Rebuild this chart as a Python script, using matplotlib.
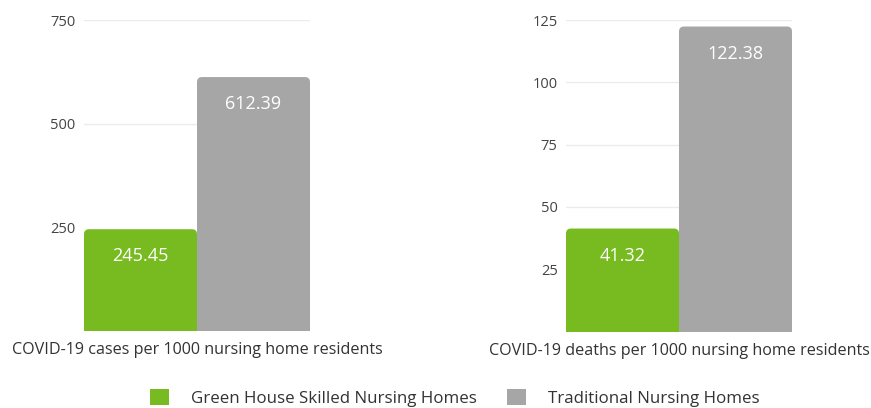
import matplotlib.pyplot as plt
from matplotlib.patches import FancyBboxPatch, Patch

plt.rcParams['font.family'] = ['Open Sans', 'DejaVu Sans']

# Data
series = ["Green House Skilled Nursing Homes", "Traditional Nursing Homes"]
colors = ["#78bb21", "#a6a6a6"]
cases = [245.45, 612.39]
deaths = [41.32, 122.38]
case_ticks = [250, 500, 750]
death_ticks = [25, 50, 75, 100, 125]
xlabels = ["COVID-19 cases per 1000 nursing home residents",
           "COVID-19 deaths per 1000 nursing home residents"]

W, H = 871, 408
fig = plt.figure(figsize=(W / 100, H / 100), dpi=100)

# axes boxes in pixels: left, right, top(ymax), bottom(zero)
boxes = [(84, 310, 20, 331), (566, 792, 20, 331.5)]
panels = [(cases, case_ticks, 750), (deaths, death_ticks, 125)]


def rounded_bars(ax, bars, radius_px=5):
    # replace square bars with top-rounded ones
    fig.canvas.draw()
    bbox = ax.get_window_extent()
    x0, x1 = ax.get_xlim()
    y0, y1 = ax.get_ylim()
    px_per_x = bbox.width / (x1 - x0)
    px_per_y = bbox.height / (y1 - y0)
    r = radius_px / px_per_x
    aspect = px_per_x / px_per_y
    for b in bars:
        x, w, h = b.get_x(), b.get_width(), b.get_height()
        b.set_visible(False)
        extra = 3 * r * aspect
        p = FancyBboxPatch((x + r, -extra + r * aspect), w - 2 * r, h + extra - 2 * r * aspect,
                           boxstyle=f"round,pad={r},rounding_size={r}",
                           mutation_aspect=aspect,
                           facecolor=b.get_facecolor(), edgecolor="none", zorder=2)
        p.set_clip_on(True)
        ax.add_patch(p)


for (l, r, t, b), (vals, ticks, top), lab in zip(boxes, panels, xlabels):
    ax = fig.add_axes([l / W, (H - b) / H, (r - l) / W, (b - t) / H])
    bars = ax.bar([0, 1], vals, width=1.0, color=colors, zorder=2)
    ax.set_xlim(-0.5, 1.5)
    ax.set_ylim(0, top)
    ax.set_yticks(ticks)
    ax.set_xticks([])
    ax.grid(axis="y", color="#ebebeb", linewidth=1, zorder=0)
    ax.set_axisbelow(True)
    # gridlines just above the short bar are not shown in the original
    for tv, gl in zip(ticks, ax.yaxis.get_gridlines()):
        if tv < min(vals) + 0.02 * top:
            gl.set_visible(False)
    for s in ax.spines.values():
        s.set_visible(False)
    ax.tick_params(axis="y", length=0, pad=6, labelsize=10.5, labelcolor="#444444")
    ax.set_xlabel(lab, fontsize=11.6, color="#333333", labelpad=8)
    rounded_bars(ax, bars)
    for i, v in enumerate(vals):
        ax.annotate(f"{v:.2f}", (i, v), xytext=(0, -19.5), textcoords="offset points",
                    ha="center", va="center", color="white", fontsize=13, zorder=3)

handles = [Patch(facecolor=c, edgecolor="none") for c in colors]
fig.legend(handles, series, loc="center", bbox_to_anchor=(455 / W, (H - 398) / H),
           ncol=2, frameon=False, fontsize=12.2, handlelength=1.1, handleheight=1.1,
           handletextpad=1.3, columnspacing=1.8, labelcolor="#333333")

fig.savefig("out.png", dpi=100)
